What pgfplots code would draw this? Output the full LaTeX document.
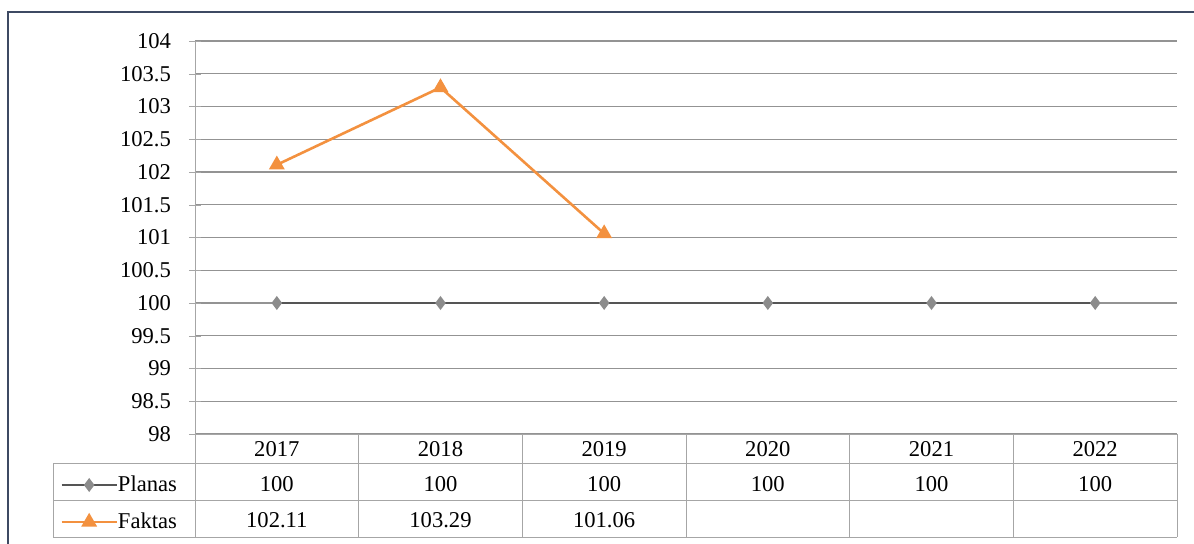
\documentclass[border=0pt]{standalone}
\usepackage{pgfplots}
\pgfplotsset{compat=1.18}
\usepackage{fontspec}
\setmainfont{Liberation Serif}
\definecolor{planline}{HTML}{555555}
\definecolor{planmark}{HTML}{8C8C8C}
\definecolor{faktorange}{HTML}{F3913F}
\definecolor{framecol}{HTML}{3E4A63}
\definecolor{tabgray}{HTML}{A6A6A6}

\begin{document}
\begin{tikzpicture}
\begin{axis}[
    at={(0,0)}, anchor=south west,
    scale only axis, width=491pt, height=196.5pt,
    xmin=-0.5, xmax=5.5, ymin=98, ymax=104,
    ytick={98,98.5,...,104},
    xtick=\empty,
    ymajorgrids=true,
    grid style={gray!85, line width=0.55pt},
    axis x line*=bottom, axis y line*=left,
    axis line style={tabgray,-},
    y tick style={tabgray},
    tick align=center, major tick length=6pt,
    yticklabel style={xshift=-5.5pt},
    clip=false,
    font=\fontsize{11.3}{13}\selectfont,
    /pgf/number format/assume math mode=true,
    legend style={at={(axis cs:-1.325,97.38)}, anchor=north west,
        draw=none, fill=none, inner sep=0pt, row sep=8.5pt,
        nodes={inner sep=0pt, text height=8pt, text depth=2pt, anchor=west}},
    legend cell align=left,
    legend image code/.code={%
        \draw[mark repeat=2,mark phase=2,#1] plot coordinates {(0pt,0pt)(13.75pt,0pt)(27.5pt,0pt)};},
]

\addplot[color=planline, line width=1.1pt, mark=diamond*, mark size=2.6pt,
    mark options={fill=planmark, draw=planmark}]
    coordinates {(0,100)(1,100)(2,100)(3,100)(4,100)(5,100)};
\addlegendentry{Planas}

\addplot[color=faktorange, line width=1.3pt, mark=triangle*, mark size=3.3pt,
    mark options={fill=faktorange}]
    coordinates {(0,102.11)(1,103.29)(2,101.06)};
\addlegendentry{Faktas}

% data table below the plot
\draw[tabgray] (-1.3676,97.557) -- (5.5,97.557);
\draw[tabgray] (-1.3676,96.992) -- (5.5,96.992);
\draw[tabgray] (-1.3676,96.427) -- (5.5,96.427);
\draw[tabgray] (-1.3676,97.557) -- (-1.3676,96.427);
\draw[tabgray] (-0.5,98) -- (-0.5,96.427);
\draw[tabgray] (0.5,98) -- (0.5,96.427);
\draw[tabgray] (1.5,98) -- (1.5,96.427);
\draw[tabgray] (2.5,98) -- (2.5,96.427);
\draw[tabgray] (3.5,98) -- (3.5,96.427);
\draw[tabgray] (4.5,98) -- (4.5,96.427);
\draw[tabgray] (5.5,98) -- (5.5,96.427);

\node at (0,97.771) {2017};
\node at (1,97.771) {2018};
\node at (2,97.771) {2019};
\node at (3,97.771) {2020};
\node at (4,97.771) {2021};
\node at (5,97.771) {2022};

\node at (0,97.237) {100};
\node at (1,97.237) {100};
\node at (2,97.237) {100};
\node at (3,97.237) {100};
\node at (4,97.237) {100};
\node at (5,97.237) {100};

\node at (0,96.687) {102.11};
\node at (1,96.687) {103.29};
\node at (2,96.687) {101.06};
\end{axis}

\draw[framecol, line width=0.8pt] (-93.5pt,-55pt) -- (-93.5pt,211pt) -- (499.5pt,211pt);
\pgfresetboundingbox
\useasboundingbox (-97.5pt,-55pt) rectangle (499.5pt,217pt);
\end{tikzpicture}
\end{document}
